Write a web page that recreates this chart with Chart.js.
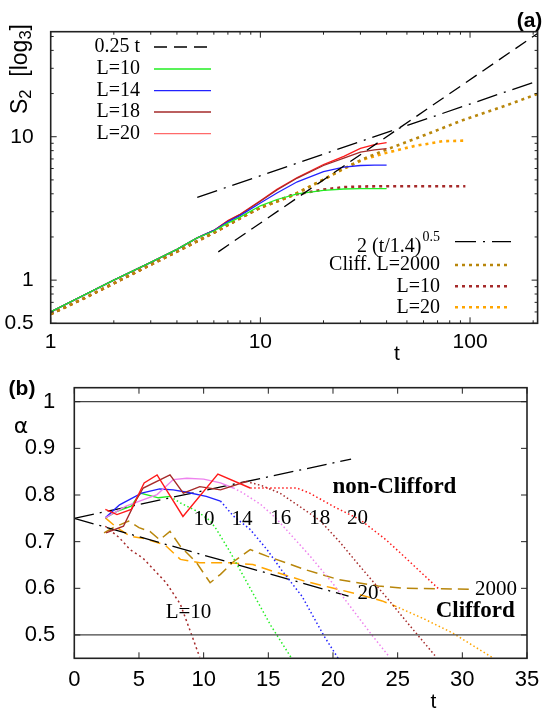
<!DOCTYPE html>
<html><head><meta charset="utf-8">
<script src="https://cdn.jsdelivr.net/npm/chart.js@4.4.1/dist/chart.umd.min.js"></script>
<style>
html,body{margin:0;padding:0;background:#fff;}
body{width:544px;height:714px;position:relative;overflow:hidden;font-family:"Liberation Sans",Arial,sans-serif;}
canvas{position:absolute;left:0;}
#ca{top:0;}
#cb{top:360px;}
.lbl{position:absolute;white-space:nowrap;line-height:1;color:#000;transform:translate(-50%,-50%);}
.bold{font-weight:bold;font-size:21px;}
.ylab{font-size:23px;transform:translate(-50%,-50%) rotate(-90deg);}
.ylab sub{font-size:0.72em;vertical-align:-0.28em;line-height:0;}
</style></head><body>
<canvas id="ca" width="544" height="360"></canvas>
<canvas id="cb" width="544" height="354"></canvas>
<div class="lbl bold" style="left:529.5px;top:19px;">(a)</div>
<div class="lbl bold" style="left:22px;top:387px;">(b)</div>
<div class="lbl" style="left:397px;top:352px;font-size:21px;">t</div>
<div class="lbl" style="left:433.5px;top:700px;font-size:21px;">t</div>
<div class="lbl" style="left:21px;top:426px;font-size:22px;font-family:'DejaVu Sans';">α</div>
<div class="lbl ylab" style="left:19px;top:69px;">S<sub>2</sub>&nbsp; [log<sub>3</sub>]</div>
<script>
// ---------- Panel (a) data ----------
const xTicksA = [1, 10, 100];
const yTicksA = [0.5, 1, 10];
const xMinorA = [2,3,4,5,6,7,8,9,20,30,40,50,60,70,80,90,200];
const yMinorA = [0.6,0.7,0.8,0.9,2,3,4,5,6,7,8,9,20,30,40,50];

const tLinear = [6.3, 210];          // 0.25 t
const sLinear = [1.575, 52.5];
const tSqrt = [5, 210];              // 2 (t/1.4)^0.5
const sSqrt = [3.78, 24.5];

const tNonCliff = [1,2,3,4,5,6,7,8,10,12,15,20,25,30,35,40];
const sL10 = [0.6,1.0,1.33,1.64,1.97,2.2,2.5,2.75,3.3,3.65,4.0,4.22,4.32,4.34,4.35,4.35];
const sL14 = [0.6,1.0,1.33,1.64,1.97,2.22,2.55,2.82,3.45,4.05,4.85,5.7,6.14,6.3,6.33,6.34];
const sL18 = [0.6,1.0,1.33,1.64,1.97,2.22,2.58,2.86,3.55,4.25,5.15,6.3,7.1,7.8,8.1,8.25];
const sL20 = [0.6,1.0,1.33,1.64,1.97,2.22,2.6,2.88,3.58,4.3,5.2,6.4,7.3,8.3,8.8,9.1];

const tCliff = [1,1.4,2,3,4,6,8,10,14,20,25,31,40,54,74,95];
const sCliffL10 = [0.58,0.73,0.95,1.28,1.58,2.14,2.7,3.2,3.9,4.28,4.45,4.5,4.52,4.52,4.52,4.52];
const sCliffL20 = [0.58,0.73,0.95,1.28,1.58,2.14,2.7,3.2,3.85,5.03,5.98,6.95,7.73,8.6,9.3,9.4];
const tCliff2000 = [1,1.4,2,3,4,6,8,10,14,20,25,31,40,56,93,150,210];
const sCliff2000 = [0.58,0.73,0.95,1.28,1.58,2.14,2.7,3.2,3.85,5.03,6.0,7.0,8.15,9.8,13.1,16.6,19.9];

// ---------- Panel (b) data ----------
const xTicksB = [0,5,10,15,20,25,30,35];
const yTicksB = [0.5,0.6,0.7,0.8,0.9,1];
const tRef = [0, 35];
const aOne = [1, 1];
const aHalf = [0.5, 0.5];
const tUp = [0, 21.4];   const aUp = [0.75, 0.877];
const tDown = [0, 21.2]; const aDown = [0.75, 0.583];

const tB10 = [2.4,3.3,4.4,5.1,6.5,7.4];
const aB10 = [0.751,0.765,0.776,0.804,0.794,0.797];
const tB10d = [7.4,8.2,9.5,10.5,11,12,12.8,14,15.2,16.8];
const aB10d = [0.797,0.783,0.765,0.745,0.726,0.68,0.64,0.58,0.52,0.45];

const tB14 = [2.4,3.5,5.2,6.6,7.65,8.7,10.2,11.3];
const aB14 = [0.751,0.779,0.804,0.813,0.811,0.806,0.797,0.787];
const tB14d = [11.3,12.3,13.6,14.9,16,17.6,19.3,20.4];
const aB14d = [0.787,0.755,0.726,0.683,0.64,0.583,0.498,0.45];

const tB16 = [2.4,4.0,6.4,7.65,8.7,10,11.3,12.3];
const aB16 = [0.751,0.776,0.801,0.833,0.836,0.834,0.826,0.815];
const tB16d = [12.3,13,14.4,15.6,16.9,18.2,20,23,24.3];
const aB16d = [0.815,0.805,0.78,0.75,0.71,0.67,0.61,0.5,0.455];

const tB18 = [2.45,3.8,4.8,5.33,7.4,8.43,9.7,11.3,13.3];
const aB18 = [0.719,0.733,0.79,0.815,0.843,0.804,0.818,0.811,0.829];
const tB18d = [13.3,14.5,15.9,17.4,19,20.5,22,24,26,28];
const aB18d = [0.829,0.82,0.804,0.776,0.745,0.7,0.65,0.585,0.518,0.452];

const tB20 = [2.4,3.3,4.4,5.4,6.4,8.4,11.1,13.6];
const aB20 = [0.769,0.758,0.769,0.826,0.843,0.754,0.845,0.815];
const tB20d = [13.6,15,17.2,18.2,20,22.1,24.1,25.2,28.2];
const aB20d = [0.815,0.815,0.815,0.804,0.776,0.747,0.704,0.676,0.598];

const tCl20 = [2.4,3.3,4.3,5.5,7,8.2,9.7,12,13.8,15.3,17.85,19.9,22,23.8,24.8];
const aCl20 = [0.751,0.73,0.712,0.706,0.693,0.662,0.655,0.655,0.651,0.637,0.615,0.601,0.587,0.573,0.562];
const tCl20d = [24.8,27,29.2,32.3];
const aCl20d = [0.562,0.535,0.505,0.452];

const tCl2000 = [2.3,3.0,4.2,5.0,5.85,6.6,7.4,8.2,9.45,10.5,11.3,12.3,13.6,14.9,17.85,20.4,23.5,25.6,30.5];
const aCl2000 = [0.719,0.73,0.744,0.73,0.722,0.704,0.722,0.69,0.655,0.612,0.63,0.657,0.683,0.669,0.64,0.619,0.605,0.6,0.598];

const tCl10 = [2.4,3.5,4.3,5.3,7.1,8.2,9.1,9.7];
const aCl10 = [0.733,0.708,0.683,0.665,0.612,0.566,0.498,0.452];

// ---------- helpers ----------
const pts = (xs, ys) => xs.map((x, i) => ({x: x, y: ys[i]}));
const line = (label, xs, ys, color, width, dash) => ({
  label: label, data: pts(xs, ys), borderColor: color, backgroundColor: color,
  borderWidth: width, borderDash: dash || [], pointRadius: 0, tension: 0, fill: false
});

const C = {
  green: '#22ee22', blue: '#2222ff', violet: '#ee82ee', brown: '#a52a2a',
  red: '#ff1a1a', orange: '#ffa500', gold: '#b8860b', black: '#000000'
};

const framePlugin = {
  id: 'frame',
  afterDatasetsDraw(chart, args, o) {
    const {ctx, chartArea: a, scales: {x, y}} = chart;
    ctx.save();
    ctx.strokeStyle = '#222';
    ctx.lineWidth = 1;
    const xt = (vals, len) => vals.forEach(v => {
      const p = x.getPixelForValue(v);
      ctx.beginPath(); ctx.moveTo(p, a.bottom); ctx.lineTo(p, a.bottom - len);
      ctx.moveTo(p, a.top); ctx.lineTo(p, a.top + len); ctx.stroke();
    });
    const yt = (vals, len) => vals.forEach(v => {
      const p = y.getPixelForValue(v);
      ctx.beginPath(); ctx.moveTo(a.left, p); ctx.lineTo(a.left + len, p);
      ctx.moveTo(a.right, p); ctx.lineTo(a.right - len, p); ctx.stroke();
    });
    xt(o.xMajor || [], 6); yt(o.yMajor || [], 6);
    xt(o.xMinor || [], 3); yt(o.yMinor || [], 3);
    ctx.lineWidth = 1.6;
    ctx.strokeRect(a.left, a.top, a.right - a.left, a.bottom - a.top);
    ctx.restore();
  }
};

const legendPlugin = {
  id: 'keys',
  afterDatasetsDraw(chart, args, o) {
    if (!o.groups) return;
    const ctx = chart.ctx;
    ctx.save();
    o.groups.forEach(g => {
      g.entries.forEach((e, i) => {
        const ds = chart.data.datasets[e.ds];
        const yy = g.y[i];
        ctx.strokeStyle = e.color || ds.borderColor; ctx.lineWidth = ds.borderWidth;
        ctx.setLineDash(ds.borderDash || []);
        ctx.beginPath(); ctx.moveTo(g.s0, yy); ctx.lineTo(g.s1, yy); ctx.stroke();
        ctx.setLineDash([]);
        ctx.fillStyle = '#000';
        ctx.textAlign = 'right'; ctx.textBaseline = 'middle';
        if (e.sup) {
          ctx.font = '14px "Liberation Serif"';
          const w = ctx.measureText(e.sup).width;
          ctx.fillText(e.sup, g.x, yy - 4);
          ctx.font = '20px "Liberation Serif"';
          ctx.fillText(ds.label, g.x - w - 1, yy + 5);
        } else {
          ctx.font = '20px "Liberation Serif"';
          ctx.fillText(ds.label, g.x, yy);
        }
      });
    });
    ctx.restore();
  }
};

const notesPlugin = {
  id: 'notes',
  afterDatasetsDraw(chart, args, o) {
    if (!o.items) return;
    const {ctx, scales: {x, y}} = chart;
    ctx.save();
    o.items.forEach(it => {
      ctx.font = it.font; ctx.fillStyle = '#000';
      ctx.textAlign = 'center'; ctx.textBaseline = 'middle';
      ctx.fillText(it.text, x.getPixelForValue(it.t), y.getPixelForValue(it.a));
    });
    ctx.restore();
  }
};

const axisCommon = (ticksArr, size, pad, fmt, fit) => ({
  grid: {display: false}, border: {display: false},
  ticks: {font: {family: 'Liberation Sans', size: size}, color: '#000', padding: pad,
          maxRotation: 0, autoSkip: false, callback: fmt},
  afterBuildTicks: s => { s.ticks = ticksArr.map(v => ({value: v})); },
  afterFit: fit
});

// ---------- Chart (a) ----------
new Chart(document.getElementById('ca'), {
  type: 'line',
  data: {datasets: [
    line('0.25 t', tLinear, sLinear, C.black, 1.3, [13, 7]),
    line('L=10', tNonCliff, sL10, C.green, 1.3),
    line('L=14', tNonCliff, sL14, C.blue, 1.3),
    line('L=18', tNonCliff, sL18, C.brown, 1.3),
    line('L=20', tNonCliff, sL20, C.red, 1.3),
    line('2 (t/1.4)', tSqrt, sSqrt, C.black, 1.3, [21, 7, 2, 7]),
    line('Cliff. L=2000', tCliff2000, sCliff2000, C.gold, 2.6, [3, 4]),
    line('L=10', tCliff, sCliffL10, C.brown, 2.6, [3, 4]),
    line('L=20', tCliff, sCliffL20, C.orange, 2.6, [3, 4])
  ]},
  options: {
    responsive: false, animation: false, events: [],
    layout: {padding: {left: 0, right: 6.4, top: 31.7, bottom: 0}},
    scales: {
      x: Object.assign({type: 'logarithmic', min: 1, max: 210},
        axisCommon(xTicksA, 21, -1.5, v => String(v), s => { s.height = 36.7; })),
      y: Object.assign({type: 'logarithmic', min: 0.5, max: 54},
        axisCommon(yTicksA, 21, 9, v => String(v), s => { s.width = 50.7; }))
    },
    plugins: {
      legend: {display: false}, tooltip: {enabled: false},
      frame: {xMajor: xTicksA, yMajor: yTicksA, xMinor: xMinorA, yMinor: yMinorA},
      keys: {groups: [
        {x: 140, s0: 154, s1: 211, y: [47, 69, 90.7, 112, 133.7],
         entries: [{ds: 0}, {ds: 1}, {ds: 2}, {ds: 3}, {ds: 4, color: '#ff6a6a'}]},
        {x: 440, s0: 455, s1: 511, y: [241.7, 265, 286.3, 307.3],
         entries: [{ds: 5, sup: '0.5'}, {ds: 6}, {ds: 7}, {ds: 8}]}
      ]}
    }
  },
  plugins: [framePlugin, legendPlugin]
});

// ---------- Chart (b) ----------
new Chart(document.getElementById('cb'), {
  type: 'line',
  data: {datasets: [
    line('ref1', tRef, aOne, '#444', 1.2),
    line('ref05', tRef, aHalf, '#444', 1.2),
    line('L=20', tB20, aB20, C.red, 1.4),
    line('L=20 d', tB20d, aB20d, C.red, 1.5, [1.5, 2.5]),
    line('L=18', tB18, aB18, C.brown, 1.4),
    line('L=18 d', tB18d, aB18d, C.brown, 1.5, [1.5, 2.5]),
    line('L=16', tB16, aB16, C.violet, 1.4),
    line('L=16 d', tB16d, aB16d, C.violet, 1.5, [1.5, 2.5]),
    line('L=14', tB14, aB14, C.blue, 1.4),
    line('L=14 d', tB14d, aB14d, C.blue, 1.5, [1.5, 2.5]),
    line('L=10', tB10, aB10, C.green, 1.4),
    line('L=10 d', tB10d, aB10d, C.green, 1.5, [1.5, 2.5]),
    line('fit up', tUp, aUp, C.black, 1.3, [20, 6, 2, 6]),
    line('fit down', tDown, aDown, C.black, 1.3, [20, 6, 2, 6]),
    line('Cliff 20', tCl20, aCl20, C.orange, 1.5, [11, 6]),
    line('Cliff 20 d', tCl20d, aCl20d, C.orange, 1.5, [1.5, 2.5]),
    line('Cliff 2000', tCl2000, aCl2000, C.gold, 1.5, [11, 6]),
    line('Cliff 10', tCl10, aCl10, C.brown, 1.5, [2, 3])
  ]},
  options: {
    responsive: false, animation: false, events: [],
    layout: {padding: {left: 0, right: 17, top: 27.7, bottom: 0}},
    scales: {
      x: Object.assign({type: 'linear', min: 0, max: 35},
        axisCommon(xTicksB, 22, 0, v => String(v), s => { s.height = 55.7; })),
      y: Object.assign({type: 'linear', min: 0.45, max: 1.03},
        axisCommon(yTicksB, 22, 11, v => (v === 1 ? '1' : v.toFixed(1)), s => { s.width = 74.3; }))
    },
    plugins: {
      legend: {display: false}, tooltip: {enabled: false},
      frame: {xMajor: xTicksB, yMajor: yTicksB},
      notes: {items: [
        {text: '10', t: 10.02, a: 0.747, font: '21px "Liberation Serif"'},
        {text: '14', t: 12.96, a: 0.747, font: '21px "Liberation Serif"'},
        {text: '16', t: 15.97, a: 0.749, font: '21px "Liberation Serif"'},
        {text: '18', t: 18.98, a: 0.749, font: '21px "Liberation Serif"'},
        {text: '20', t: 21.9, a: 0.749, font: '21px "Liberation Serif"'},
        {text: 'non-Clifford', t: 24.75, a: 0.818, font: 'bold 23px "Liberation Serif"'},
        {text: 'Clifford', t: 31.0, a: 0.551, font: 'bold 23px "Liberation Serif"'},
        {text: '2000', t: 32.6, a: 0.598, font: '21px "Liberation Serif"'},
        {text: '20', t: 22.7, a: 0.589, font: '21px "Liberation Serif"'},
        {text: 'L=10', t: 8.83, a: 0.548, font: '21px "Liberation Serif"'}
      ]}
    }
  },
  plugins: [framePlugin, notesPlugin]
});
</script>
</body></html>
